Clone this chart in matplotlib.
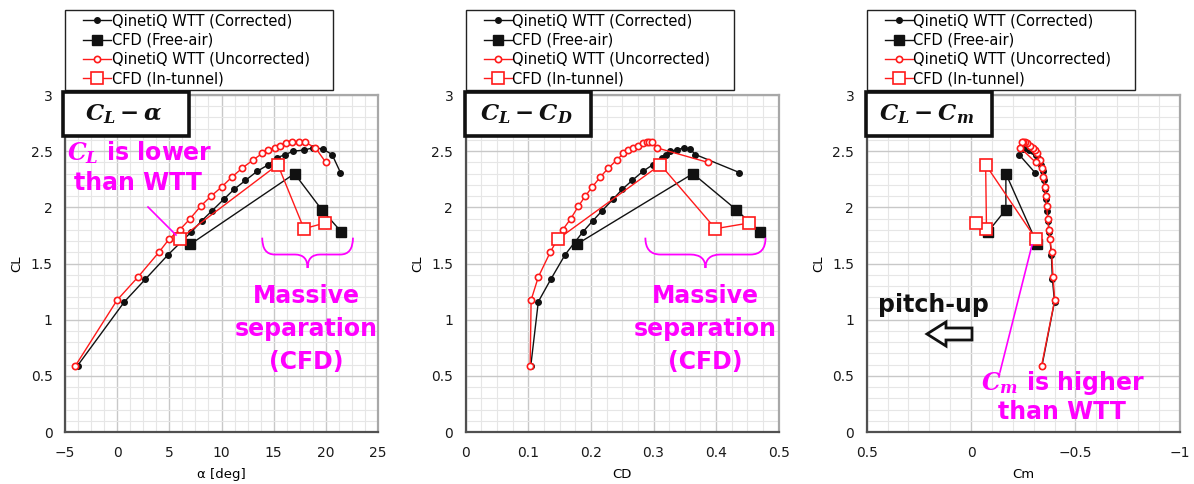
import matplotlib
matplotlib.use("Agg")
import matplotlib.pyplot as plt
from matplotlib.ticker import MultipleLocator, FuncFormatter
from matplotlib.path import Path
from matplotlib.patches import PathPatch, Rectangle, Polygon
from matplotlib.legend_handler import HandlerLine2D
from matplotlib.lines import Line2D

# ---------------- data ----------------
# QinetiQ WTT (Corrected)
alpha_wtt_corr = [-3.8, 0.7, 2.7, 4.9, 7.1, 8.1, 9.1, 10.2, 11.2, 12.3, 13.4, 14.5,
                  15.3, 16.1, 16.9, 17.9, 18.8, 19.7, 20.6, 21.4]
cl_wtt_corr = [0.59, 1.16, 1.36, 1.58, 1.78, 1.88, 1.97, 2.07, 2.16, 2.24, 2.32, 2.38,
               2.44, 2.47, 2.50, 2.51, 2.53, 2.52, 2.47, 2.31]
cd_wtt_corr = [0.104, 0.116, 0.136, 0.159, 0.187, 0.203, 0.218, 0.235, 0.250, 0.266, 0.283, 0.299,
               0.313, 0.320, 0.327, 0.337, 0.348, 0.358, 0.367, 0.437]
cm_wtt_corr = [-0.34, -0.40, -0.39, -0.385, -0.375, -0.37, -0.365, -0.36, -0.355, -0.35, -0.343, -0.335,
               -0.322, -0.31, -0.295, -0.28, -0.262, -0.248, -0.23, -0.306]

# CFD (Free-air)
alpha_cfd_free = [7.0, 17.0, 19.6, 21.5]
cl_cfd_free = [1.67, 2.30, 1.98, 1.78]
cd_cfd_free = [0.177, 0.363, 0.432, 0.470]
cm_cfd_free = [-0.318, -0.167, -0.167, -0.08]

# QinetiQ WTT (Uncorrected)
alpha_wtt_unc = [-4, 0, 2, 4, 5, 6, 7, 8, 9, 10, 11, 12, 13, 13.9, 14.5, 15.1, 15.6,
                 16.2, 16.8, 17.4, 18.0, 19.0, 20.0]
cl_wtt_unc = [0.59, 1.175, 1.38, 1.60, 1.72, 1.80, 1.90, 2.01, 2.10, 2.18, 2.27, 2.35, 2.42,
              2.48, 2.51, 2.53, 2.55, 2.57, 2.58, 2.58, 2.58, 2.53, 2.40]
cd_wtt_unc = [0.103, 0.1045, 0.116, 0.135, 0.147, 0.155, 0.168, 0.180, 0.191, 0.202, 0.215, 0.228,
              0.241, 0.252, 0.259, 0.267, 0.275, 0.283, 0.289, 0.293, 0.298, 0.305, 0.387]
cm_wtt_unc = [-0.338, -0.401, -0.393, -0.386, -0.378, -0.372, -0.367, -0.363, -0.358, -0.354,
              -0.347, -0.340, -0.330, -0.318, -0.306, -0.295, -0.283, -0.270, -0.258, -0.249,
              -0.242, -0.236, -0.310]

# CFD (In-tunnel)
alpha_cfd_tun = [6.0, 15.4, 17.9, 19.9]
cl_cfd_tun = [1.72, 2.38, 1.81, 1.86]
cd_cfd_tun = [0.148, 0.311, 0.399, 0.452]
cm_cfd_tun = [-0.31, -0.07, -0.074, -0.023]

series_labels = ["QinetiQ WTT (Corrected)", "CFD (Free-air)",
                 "QinetiQ WTT (Uncorrected)", "CFD (In-tunnel)"]

# ---------------- style ----------------
plt.rcParams['font.family'] = ['DejaVu Sans']
plt.rcParams['mathtext.fontset'] = 'custom'
plt.rcParams['mathtext.it'] = 'DejaVu Serif:italic:bold'
plt.rcParams['mathtext.rm'] = 'DejaVu Serif:bold'
plt.rcParams['mathtext.bf'] = 'DejaVu Serif:bold'

W, H = 1194, 484
fig = plt.figure(figsize=(W / 100, H / 100), dpi=100)


def fx(x):
    return x / W


def fy(y):
    return 1 - y / H


MAG = '#ff00ff'
RED = '#ff1a1a'

ax_left_px = [65, 465.7, 866.7]
ax_w_px = 313
ax_top_px, ax_bot_px = 95, 432

axes = []
for lp in ax_left_px:
    ax = fig.add_axes([fx(lp), fy(ax_bot_px), ax_w_px / W, (ax_bot_px - ax_top_px) / H])
    axes.append(ax)


def fmt(v, pos):
    s = f"{v:g}"
    return s.replace('-', '\u2212')


def style_axes(ax, xlim, xmaj, xmin):
    ax.set_xlim(*xlim)
    ax.set_ylim(0, 3)
    ax.xaxis.set_major_locator(MultipleLocator(xmaj))
    ax.xaxis.set_minor_locator(MultipleLocator(xmin))
    ax.yaxis.set_major_locator(MultipleLocator(0.5))
    ax.yaxis.set_minor_locator(MultipleLocator(0.1))
    ax.xaxis.set_major_formatter(FuncFormatter(fmt))
    ax.yaxis.set_major_formatter(FuncFormatter(fmt))
    ax.grid(True, which='major', color='#c8c8c8', lw=1.0)
    ax.grid(True, which='minor', color='#e6e6e6', lw=0.8)
    ax.set_axisbelow(True)
    ax.tick_params(which='both', length=0, labelsize=10, colors='#1a1a1a')
    ax.tick_params(axis='x', pad=10)
    ax.tick_params(axis='y', pad=9)
    for s in ['left', 'bottom']:
        ax.spines[s].set_color('#505050')
        ax.spines[s].set_linewidth(1.6)
    for s in ['top', 'right']:
        ax.spines[s].set_color('#a8a8a8')
        ax.spines[s].set_linewidth(1.6)
    ax.set_ylabel('CL', fontsize=9.5, labelpad=5)


def plot_series(ax, xs):
    x1, x2, x3, x4 = xs
    ax.plot(x1, cl_wtt_corr, '-o', color='#111111', lw=1.0, ms=4.0, mfc='#111111', mec='#111111',
            label=series_labels[0], zorder=3)
    ax.plot(x2, cl_cfd_free, '-s', color='#111111', lw=1.0, ms=6.5, mfc='#111111', mec='#111111',
            label=series_labels[1], zorder=3)
    ax.plot(x3, cl_wtt_unc, '-o', color=RED, lw=1.0, ms=4.5, mfc='white', mec=RED, mew=1.2,
            label=series_labels[2], zorder=4)
    ax.plot(x4, cl_cfd_tun, '-s', color=RED, lw=1.0, ms=8, mfc='white', mec=RED, mew=1.2,
            label=series_labels[3], zorder=4)
    leg = ax.legend(loc='lower left', bbox_to_anchor=(0, 1 + 5 / 337, 268 / 313, 0.2), mode='expand',
                    borderaxespad=0, fancybox=False, edgecolor='#222222', framealpha=1,
                    fontsize=10.5, handlelength=2.9, handletextpad=0.05, labelspacing=0.3,
                    borderpad=0.25,
                    handler_map={Line2D: HandlerLine2D(xpad=1.0, numpoints=1)})
    leg.get_frame().set_linewidth(1.0)


ax1, ax2, ax3 = axes
style_axes(ax1, (-5, 25), 5, 1.25)
style_axes(ax2, (0, 0.5), 0.1, 0.025)
style_axes(ax3, (0.5, -1), 0.5, 0.1)

plot_series(ax1, (alpha_wtt_corr, alpha_cfd_free, alpha_wtt_unc, alpha_cfd_tun))
plot_series(ax2, (cd_wtt_corr, cd_cfd_free, cd_wtt_unc, cd_cfd_tun))
plot_series(ax3, (cm_wtt_corr, cm_cfd_free, cm_wtt_unc, cm_cfd_tun))

ax1.set_xlabel('\u03b1 [deg]', fontsize=9.5, labelpad=6)
ax2.set_xlabel('CD', fontsize=9.5, labelpad=6)
ax3.set_xlabel('Cm', fontsize=9.5, labelpad=6)

# ---------------- title boxes ----------------
titles = [r'$C_L - \alpha$', r'$C_L - C_D$', r'$C_L - C_m$']
box_x = [63, 465, 866]
for bx, t in zip(box_x, titles):
    r = Rectangle((fx(bx), fy(136)), 126 / W, 44 / H, transform=fig.transFigure,
                  facecolor='white', edgecolor='#111111', lw=2.6, zorder=5)
    fig.add_artist(r)
    fig.text(fx(bx + 61), fy(114), t, ha='center', va='center', fontsize=16.5, zorder=6,
             color='#111111')


# ---------------- braces ----------------
def brace(ax, x0, x1, y_end, y_mid, y_tip, d):
    xm = (x0 + x1) / 2
    verts = [(x0, y_end), (x0, y_mid), (x0 + d, y_mid), (xm - d, y_mid), (xm, y_mid), (xm, y_tip),
             (xm, y_mid), (xm + d, y_mid), (x1 - d, y_mid), (x1, y_mid), (x1, y_end)]
    codes = [Path.MOVETO, Path.CURVE3, Path.CURVE3, Path.LINETO, Path.CURVE3, Path.CURVE3,
             Path.CURVE3, Path.CURVE3, Path.LINETO, Path.CURVE3, Path.CURVE3]
    ax.add_patch(PathPatch(Path(verts, codes), fill=False, edgecolor=MAG, lw=1.3, zorder=5))


brace(ax1, 13.9, 22.6, 1.73, 1.58, 1.46, 1.2)
brace(ax2, 0.287, 0.479, 1.73, 1.58, 1.46, 0.024)

for cx in (306, 705):
    for yy, s in zip((296, 329, 362), ('Massive', 'separation', '(CFD)')):
        fig.text(fx(cx), fy(yy), s, ha='center', va='center', fontsize=17, fontweight='bold',
                 color=MAG, zorder=6)

# C_L is lower than WTT
fig.text(fx(140), fy(153), r'$C_L$ is lower', ha='center', va='center', fontsize=17,
         fontweight='bold', color=MAG, zorder=6)
fig.text(fx(138), fy(183), 'than WTT', ha='center', va='center', fontsize=17,
         fontweight='bold', color=MAG, zorder=6)
fig.add_artist(Line2D([fx(148), fx(176)], [fy(207), fy(235)], color=MAG, lw=1.2, zorder=6))

# Cm is higher than WTT
fig.text(fx(1063), fy(383), r'$C_m$ is higher', ha='center', va='center', fontsize=17,
         fontweight='bold', color=MAG, zorder=6)
fig.text(fx(1062), fy(412), 'than WTT', ha='center', va='center', fontsize=17,
         fontweight='bold', color=MAG, zorder=6)
fig.add_artist(Line2D([fx(1032), fx(1000)], [fy(245), fy(372)], color=MAG, lw=1.2, zorder=6))

# pitch-up with hollow arrow
fig.text(fx(933), fy(305), 'pitch-up', ha='center', va='center', fontsize=17,
         fontweight='bold', color='#111111', zorder=6)
arrow_px = [(927, 334), (946, 322), (946, 328), (972, 328), (972, 340), (946, 340), (946, 346)]
fig.add_artist(Polygon([(fx(a), fy(b)) for a, b in arrow_px], closed=True, transform=fig.transFigure,
                       facecolor='white', edgecolor='#111111', lw=2.0, zorder=6))

fig.savefig('out.png', dpi=100)
